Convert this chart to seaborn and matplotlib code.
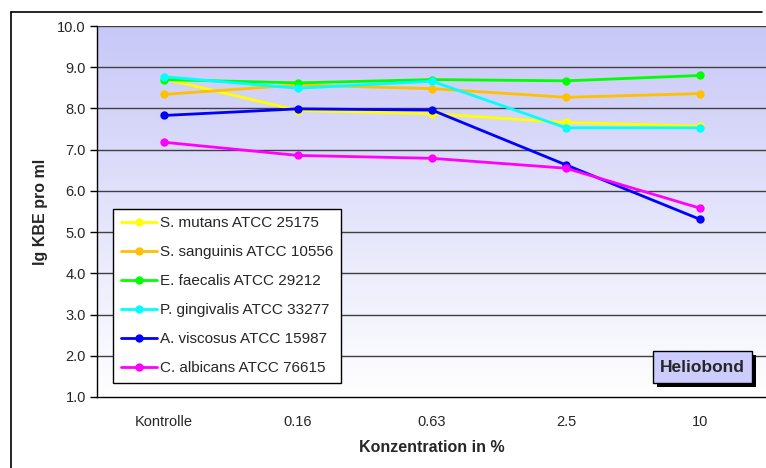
import numpy as np
import pandas as pd
import matplotlib
matplotlib.use("Agg")
import matplotlib.pyplot as plt
from matplotlib.patches import Rectangle
from matplotlib.ticker import FixedLocator, NullFormatter
import seaborn as sns

# Concentrations (x categories)
concentrations = ["Kontrolle", "0.16", "0.63", "2.5", "10"]

# Bacterial counts (lg KBE pro ml) per strain
s_mutans = [8.72, 7.95, 7.87, 7.66, 7.57]
s_sanguinis = [8.34, 8.57, 8.48, 8.27, 8.36]
e_faecalis = [8.70, 8.62, 8.70, 8.67, 8.80]
p_gingivalis = [8.77, 8.49, 8.66, 7.53, 7.53]
a_viscosus = [7.83, 7.99, 7.96, 6.63, 5.31]
c_albicans = [7.18, 6.86, 6.79, 6.55, 5.58]

strains = ["S. mutans ATCC 25175", "S. sanguinis ATCC 10556", "E. faecalis ATCC 29212",
           "P. gingivalis ATCC 33277", "A. viscosus ATCC 15987", "C. albicans ATCC 76615"]
colors = ["#ffff00", "#ffc000", "#00ff00", "#00ffff", "#0000ff", "#ff00ff"]
y_ticks = [1.0, 2.0, 3.0, 4.0, 5.0, 6.0, 7.0, 8.0, 9.0, 10.0]

series = [s_mutans, s_sanguinis, e_faecalis, p_gingivalis, a_viscosus, c_albicans]
rows = []
for name, vals in zip(strains, series):
    for i, (c, v) in enumerate(zip(concentrations, vals)):
        rows.append({"pos": i, "Konzentration": c, "Stamm": name, "lgKBE": v})
df = pd.DataFrame(rows)

sns.set_style("white")
plt.rcParams["font.family"] = ["Liberation Sans", "DejaVu Sans"]

W, H = 766, 468
fig = plt.figure(figsize=(W / 100, H / 100), dpi=100)
ax = fig.add_axes([97 / W, 1 - 397 / H, 670 / W, 371 / H])


def px(x, y):
    """Pixel position (from top-left) to figure fraction."""
    return x / W, 1 - y / H


# Outer chart frame
fig.add_artist(plt.Line2D([11 / W, 11 / W], [0, 1 - 12 / H], color="black", lw=1.2,
                          transform=fig.transFigure))
fig.add_artist(plt.Line2D([11 / W, 762 / W], [1 - 12 / H, 1 - 12 / H], color="black", lw=1.2,
                          transform=fig.transFigure))

# Plot-area gradient: lavender at top fading to white
grad = np.linspace(0, 1, 256).reshape(-1, 1)
top = np.array([0.784, 0.784, 0.973])
bot = np.array([1.0, 1.0, 1.0])
img = top[None, None, :] * (1 - grad[..., None]) + bot[None, None, :] * grad[..., None]
ax.imshow(img, extent=[-0.5, 4.5, 1.0, 10.0], aspect="auto", origin="upper", zorder=0)

# Horizontal gridlines
for yv in y_ticks[1:]:
    ax.axhline(yv, color="#404040", lw=1.0, zorder=1)

sns.lineplot(data=df, x="pos", y="lgKBE", hue="Stamm", hue_order=strains,
             palette=colors, marker="o", markersize=6, markeredgewidth=0,
             linewidth=2, ax=ax, legend=True, zorder=3)

ax.set_xlim(-0.5, 4.5)
ax.set_ylim(1.0, 10.0)
ax.set_yticks(y_ticks)
ax.set_yticklabels([f"{v:.1f}" for v in y_ticks], fontsize=10.5)
ax.set_xticks(range(len(concentrations)))
ax.set_xticklabels(concentrations, fontsize=10.5)
ax.xaxis.set_minor_locator(FixedLocator([0.5, 1.5, 2.5, 3.5]))
ax.xaxis.set_minor_formatter(NullFormatter())
ax.tick_params(axis="x", which="major", length=0, pad=13)
ax.tick_params(axis="x", which="minor", length=5, width=1, color="black", direction="out")
ax.tick_params(axis="y", length=5, width=1, color="black", direction="out", pad=3, left=True)

for side in ["top", "right"]:
    ax.spines[side].set_visible(False)
for side in ["left", "bottom"]:
    ax.spines[side].set_color("black")
    ax.spines[side].set_linewidth(1.0)

ax.set_xlabel("Konzentration in %", fontsize=11.5, fontweight="bold", labelpad=8)
ax.set_ylabel("lg KBE pro ml", fontsize=11.5, fontweight="bold", labelpad=7)

handles, labels = ax.get_legend_handles_labels()
leg = ax.legend(handles, labels, loc="lower left", bbox_to_anchor=(0.024, 0.038),
                borderaxespad=0, frameon=True, fancybox=False, fontsize=11,
                handlelength=2.4, handletextpad=0.2, labelspacing=0.98,
                borderpad=0.5)
leg.get_frame().set_edgecolor("black")
leg.get_frame().set_linewidth(1.0)
leg.get_frame().set_facecolor("white")
leg.get_frame().set_alpha(1)
leg.set_zorder(5)

# Title tag in the lower-right corner with drop shadow
bx0, by0, bx1, by1 = 653, 351, 752, 383
sx, sy = px(bx0 + 4, by1 + 4)
fig.add_artist(Rectangle((sx, sy), (bx1 - bx0) / W, (by1 - by0) / H,
                         transform=fig.transFigure, facecolor="black", edgecolor="none",
                         zorder=10))
fx, fy = px(bx0, by1)
fig.add_artist(Rectangle((fx, fy), (bx1 - bx0) / W, (by1 - by0) / H,
                         transform=fig.transFigure, facecolor="#ccccff", edgecolor="black",
                         linewidth=1.0, zorder=11))
tx, ty = px((bx0 + bx1) / 2, (by0 + by1) / 2)
fig.text(tx, ty, "Heliobond", ha="center", va="center", fontsize=12.5,
         fontweight="bold", zorder=12)

fig.savefig("out.png", dpi=100, facecolor="white")
